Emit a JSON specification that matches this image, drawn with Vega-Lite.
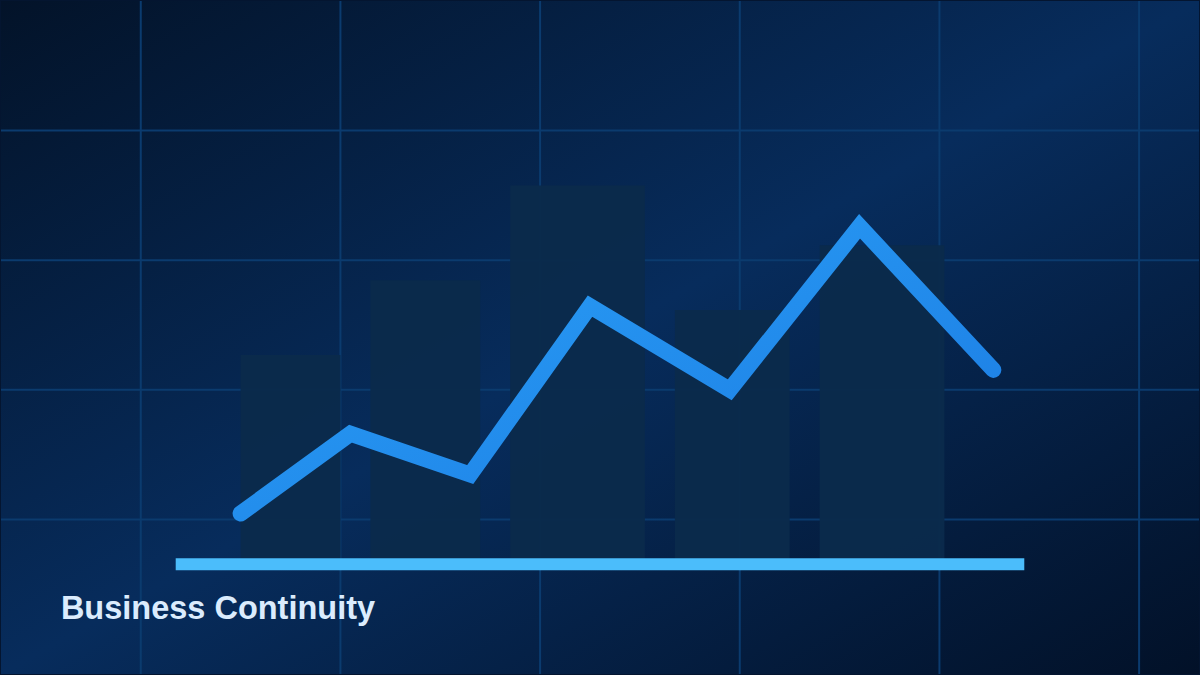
{
  "$schema": "https://vega.github.io/schema/vega-lite/v6.json",
  "width": 1200,
  "height": 675,
  "padding": 0,
  "autosize": {"type": "fit", "contains": "padding"},
  "background": "#041530",
  "config": {
    "view": {"stroke": null}
  },
  "datasets": {
    "vgrid": [{"x": 140}, {"x": 340}, {"x": 540}, {"x": 740}, {"x": 940}, {"x": 1140}],
    "hgrid": [{"y": 155}, {"y": 285}, {"y": 415}, {"y": 545}],
    "bars": [
      {"start": 240, "end": 340, "base": 115, "value": 320},
      {"start": 370, "end": 480, "base": 115, "value": 395},
      {"start": 510, "end": 645, "base": 115, "value": 490},
      {"start": 675, "end": 790, "base": 115, "value": 365},
      {"start": 820, "end": 945, "base": 115, "value": 430}
    ],
    "trend": [
      {"step": 240, "value": 161},
      {"step": 350, "value": 241},
      {"step": 470, "value": 200},
      {"step": 590, "value": 369},
      {"step": 730, "value": 285},
      {"step": 860, "value": 449},
      {"step": 994, "value": 305}
    ],
    "axisline": [{"start": 175, "end": 1025, "low": 104, "high": 116}],
    "label": [{"x": 60, "y": 55, "text": "Business Continuity"}]
  },
  "layer": [
    {
      "data": {"values": [{}]},
      "mark": {
        "type": "rect",
        "fill": {
          "gradient": "linear",
          "x1": 0, "y1": 0, "x2": 1, "y2": 1,
          "stops": [
            {"offset": 0, "color": "#031329"},
            {"offset": 0.5, "color": "#072c5c"},
            {"offset": 1, "color": "#021128"}
          ]
        }
      },
      "encoding": {
        "x": {"datum": 0, "type": "quantitative", "scale": {"domain": [0, 1200], "nice": false, "zero": false}, "axis": null},
        "x2": {"datum": 1200},
        "y": {"datum": 0, "type": "quantitative", "scale": {"domain": [0, 675], "nice": false, "zero": false}, "axis": null},
        "y2": {"datum": 675}
      }
    },
    {
      "data": {"name": "vgrid"},
      "mark": {"type": "rule", "color": "#0b3b6e", "strokeWidth": 2},
      "encoding": {
        "x": {"field": "x", "type": "quantitative", "scale": {"domain": [0, 1200], "nice": false, "zero": false}, "axis": null}
      }
    },
    {
      "data": {"name": "hgrid"},
      "mark": {"type": "rule", "color": "#0b3b6e", "strokeWidth": 2},
      "encoding": {
        "y": {"field": "y", "type": "quantitative", "scale": {"domain": [0, 675], "nice": false, "zero": false}, "axis": null}
      }
    },
    {
      "data": {"name": "bars"},
      "mark": {"type": "rect", "color": "#0a2a4b", "opacity": 0.97},
      "encoding": {
        "x": {"field": "start", "type": "quantitative", "scale": {"domain": [0, 1200], "nice": false, "zero": false}, "axis": null},
        "x2": {"field": "end"},
        "y": {"field": "base", "type": "quantitative", "scale": {"domain": [0, 675], "nice": false, "zero": false}, "axis": null},
        "y2": {"field": "value"}
      }
    },
    {
      "data": {"name": "trend"},
      "mark": {
        "type": "line",
        "strokeWidth": 16,
        "strokeCap": "round",
        "strokeJoin": "miter",
        "stroke": {
          "gradient": "linear",
          "x1": 0, "y1": 0, "x2": 1, "y2": 1,
          "stops": [
            {"offset": 0, "color": "#2ba2f8"},
            {"offset": 1, "color": "#1b7ae2"}
          ]
        }
      },
      "encoding": {
        "x": {"field": "step", "type": "quantitative", "scale": {"domain": [0, 1200], "nice": false, "zero": false}, "axis": null},
        "y": {"field": "value", "type": "quantitative", "scale": {"domain": [0, 675], "nice": false, "zero": false}, "axis": null}
      }
    },
    {
      "data": {"name": "axisline"},
      "mark": {"type": "rect", "color": "#4bbdfb"},
      "encoding": {
        "x": {"field": "start", "type": "quantitative", "scale": {"domain": [0, 1200], "nice": false, "zero": false}, "axis": null},
        "x2": {"field": "end"},
        "y": {"field": "low", "type": "quantitative", "scale": {"domain": [0, 675], "nice": false, "zero": false}, "axis": null},
        "y2": {"field": "high"}
      }
    },
    {
      "data": {"name": "label"},
      "mark": {
        "type": "text",
        "align": "left",
        "baseline": "alphabetic",
        "font": "Liberation Sans",
        "fontWeight": "bold",
        "fontSize": 32.5,
        "color": "#dbecfd"
      },
      "encoding": {
        "x": {"field": "x", "type": "quantitative", "scale": {"domain": [0, 1200], "nice": false, "zero": false}, "axis": null},
        "y": {"field": "y", "type": "quantitative", "scale": {"domain": [0, 675], "nice": false, "zero": false}, "axis": null},
        "text": {"field": "text"}
      }
    }
  ]
}
